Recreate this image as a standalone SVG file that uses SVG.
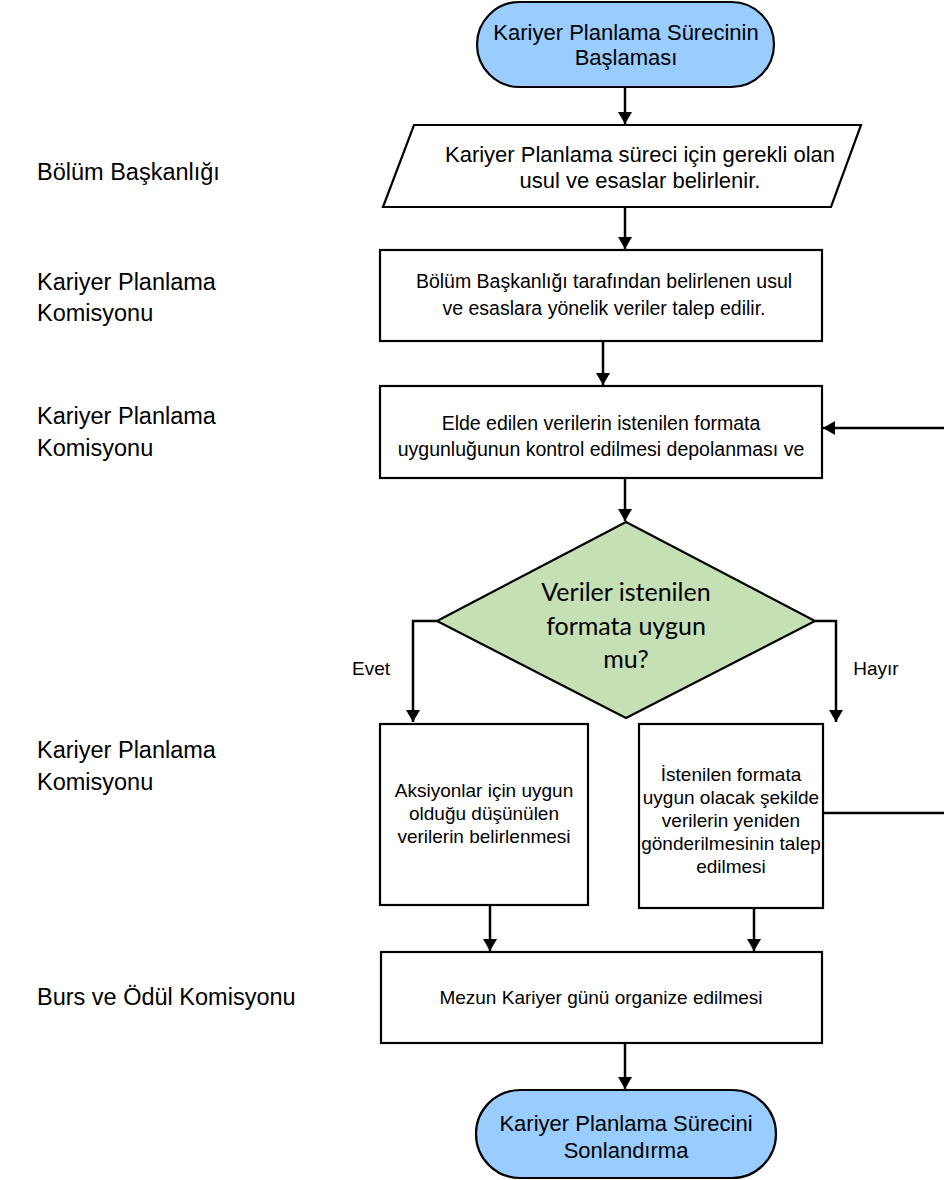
<svg xmlns="http://www.w3.org/2000/svg" width="944" height="1180" viewBox="0 0 944 1180">
<style>
.bg{fill:#fff}
.box{fill:#fff;stroke:#000;stroke-width:2.2}
.term{fill:#99CCFF;stroke:#000;stroke-width:2.2}
.dia{fill:#C5E0B4;stroke:#000;stroke-width:2.2}
.t{font-family:"Liberation Sans",Arial,sans-serif;font-size:19px;fill:#000;text-anchor:middle}
.tl{font-size:22px}
.tm{font-size:19.5px}
.lab{font-family:"Liberation Sans",Arial,sans-serif;font-size:23.5px;fill:#000}
.dt{font-family:Lato,"Open Sans",sans-serif;font-size:25px;fill:#000;text-anchor:middle}
.c{fill:none;stroke:#000;stroke-width:2.5}
</style>
<defs>
<marker id="ah" markerUnits="userSpaceOnUse" markerWidth="14" markerHeight="14" refX="12" refY="7" orient="auto">
<path d="M0,0 L12,7 L0,14 z" fill="#000"/>
</marker>
</defs>
<rect class="bg" x="0" y="0" width="944" height="1180"/>

<g id="labels">
<text class="lab" x="37" y="180">Bölüm Başkanlığı</text>
<text class="lab" x="37" y="290">Kariyer Planlama</text>
<text class="lab" x="37" y="321">Komisyonu</text>
<text class="lab" x="37" y="424">Kariyer Planlama</text>
<text class="lab" x="37" y="456">Komisyonu</text>
<text class="lab" x="37" y="758">Kariyer Planlama</text>
<text class="lab" x="37" y="790">Komisyonu</text>
<text class="lab" x="37" y="1005">Burs ve Ödül Komisyonu</text>
</g>

<g id="connectors">
<line class="c" x1="625" y1="87" x2="625" y2="124" marker-end="url(#ah)"/>
<line class="c" x1="625" y1="207" x2="625" y2="249" marker-end="url(#ah)"/>
<line class="c" x1="603" y1="341" x2="603" y2="385" marker-end="url(#ah)"/>
<line class="c" x1="944" y1="428" x2="823" y2="428" marker-end="url(#ah)"/>
<line class="c" x1="625" y1="478" x2="625" y2="521" marker-end="url(#ah)"/>
<polyline class="c" points="437,621 413,621 413,722" marker-end="url(#ah)"/>
<polyline class="c" points="815,621 836,621 836,722" marker-end="url(#ah)"/>
<line class="c" x1="823" y1="813" x2="944" y2="813"/>
<line class="c" x1="490" y1="905" x2="490" y2="951" marker-end="url(#ah)"/>
<line class="c" x1="754" y1="908" x2="754" y2="951" marker-end="url(#ah)"/>
<line class="c" x1="625" y1="1043" x2="625" y2="1089" marker-end="url(#ah)"/>
<text class="t" x="371" y="675">Evet</text>
<text class="t" x="876" y="675">Hayır</text>
</g>

<g id="start">
<rect class="term" x="477" y="2" width="297" height="85" rx="42.5"/>
<text class="t tl" x="626" y="40">Kariyer Planlama Sürecinin</text>
<text class="t tl" x="626" y="65">Başlaması</text>
</g>

<g id="input">
<polygon class="box" points="414,125 861,125 831,207 383,207"/>
<text class="t tl" x="640" y="162">Kariyer Planlama süreci için gerekli olan</text>
<text class="t tl" x="640" y="188">usul ve esaslar belirlenir.</text>
</g>

<g id="request">
<rect class="box" x="380" y="250" width="442" height="91"/>
<text class="t tm" x="604" y="288">Bölüm Başkanlığı tarafından belirlenen usul</text>
<text class="t tm" x="604" y="315">ve esaslara yönelik veriler talep edilir.</text>
</g>

<g id="check">
<rect class="box" x="380" y="386" width="442" height="92"/>
<text class="t tm" x="601" y="430">Elde edilen verilerin istenilen formata</text>
<text class="t tm" x="601" y="456">uygunluğunun kontrol edilmesi depolanması ve</text>
</g>

<g id="decision">
<polygon class="dia" points="626,522 815,621 626,718 437,621"/>
<text class="dt" x="626" y="601">Veriler istenilen</text>
<text class="dt" x="626" y="635">formata uygun</text>
<text class="dt" x="626" y="668">mu?</text>
</g>

<g id="yes">
<rect class="box" x="380" y="724" width="208" height="181"/>
<text class="t" x="484" y="797">Aksiyonlar için uygun</text>
<text class="t" x="484" y="820">olduğu düşünülen</text>
<text class="t" x="484" y="843">verilerin belirlenmesi</text>
</g>

<g id="no">
<rect class="box" x="639" y="724" width="184" height="184"/>
<text class="t" x="731" y="781">İstenilen formata</text>
<text class="t" x="731" y="804">uygun olacak şekilde</text>
<text class="t" x="731" y="827">verilerin yeniden</text>
<text class="t" x="731" y="850">gönderilmesinin talep</text>
<text class="t" x="731" y="873">edilmesi</text>
</g>

<g id="event">
<rect class="box" x="381" y="952" width="441" height="91"/>
<text class="t" x="601" y="1004">Mezun Kariyer günü organize edilmesi</text>
</g>

<g id="end">
<rect class="term" x="476" y="1090" width="300" height="88" rx="44"/>
<text class="t tl" x="626" y="1131">Kariyer Planlama Sürecini</text>
<text class="t tl" x="626" y="1158">Sonlandırma</text>
</g>
</svg>
